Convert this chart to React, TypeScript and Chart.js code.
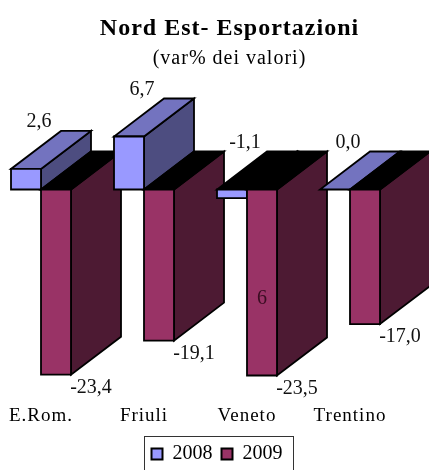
import { useEffect, useRef } from "react";
import { Chart, registerables } from "chart.js";

Chart.register(...registerables);

const categories = ["E.Rom.", "Friuli", "Veneto", "Trentino"];
const seriesNames = ["2008", "2009"];
const values2008 = [2.6, 6.7, -1.1, 0.0];
const values2009 = [-23.4, -19.1, -23.5, -17.0];
const titleText = "Nord Est- Esportazioni";
const subtitleText = "(var% dei valori)";
// stray text visible inside the Veneto 2009 column of the original
const strayNoteText = "6";
const strayNoteCategory = 2;
const strayNoteValue = -13.8;

const FONT = "'Liberation Serif', 'Times New Roman', serif";
const DEPTH_X = 50;
const DEPTH_Y = -38;
const SHIFT = 25;

const faceColors = [
  { front: "#9999FF", top: "#7373BF", side: "#4D4D80" },
  { front: "#993366", top: "#732650", side: "#4D1A33" },
];

const fmt = (v: number) => v.toFixed(1).replace(".", ",");

const bars3d = {
  id: "bars3d",
  beforeDraw(chart: any) {
    chart.ctx.letterSpacing = "1px";
  },
  afterLayout(chart: any) {
    for (const box of chart.boxes) {
      const t = box?.options?.text;
      if (t === titleText || t === subtitleText) {
        box.left += 9;
        box.right += 9;
      }
    }
    if (chart.legend) {
      chart.legend.left -= 3.5;
      chart.legend.right -= 3.5;
      if (!chart.legend.__patched) {
        const orig = chart.legend.draw.bind(chart.legend);
        chart.legend.draw = (area: any) => {
          const prev = chart.ctx.letterSpacing;
          chart.ctx.letterSpacing = "0px";
          orig(area);
          chart.ctx.letterSpacing = prev;
        };
        chart.legend.__patched = true;
      }
    }
  },
  beforeDatasetsDraw(chart: any) {
    const ctx = chart.ctx;
    const datasets = chart.data.datasets;
    const metas = datasets.map((_: any, d: number) => chart.getDatasetMeta(d));
    const poly = (pts: number[][], fill: string) => {
      ctx.beginPath();
      ctx.moveTo(pts[0][0], pts[0][1]);
      for (let k = 1; k < pts.length; k++) ctx.lineTo(pts[k][0], pts[k][1]);
      ctx.closePath();
      ctx.fillStyle = fill;
      ctx.fill();
      ctx.stroke();
    };
    ctx.save();
    ctx.letterSpacing = "0px";
    ctx.lineWidth = 1.8;
    ctx.strokeStyle = "#000";
    ctx.lineJoin = "miter";
    const labels: { text: string; x: number; y: number }[] = [];
    for (let i = 0; i < categories.length; i++) {
      for (let d = 0; d < datasets.length; d++) {
        const el = metas[d].data[i];
        const { x, y, base, width } = el.getProps(["x", "y", "base", "width"], true);
        const x0 = x - width / 2 - SHIFT;
        const x1 = x + width / 2 - SHIFT;
        const yTop = Math.min(y, base);
        const yBot = Math.max(y, base);
        const v = datasets[d].data[i];
        const c = faceColors[d];
        if (yBot - yTop > 0.5) {
          poly([[x1, yTop], [x1 + DEPTH_X, yTop + DEPTH_Y], [x1 + DEPTH_X, yBot + DEPTH_Y], [x1, yBot]], c.side);
        }
        poly([[x0, yTop], [x1, yTop], [x1 + DEPTH_X, yTop + DEPTH_Y], [x0 + DEPTH_X, yTop + DEPTH_Y]], v < 0 ? "#000000" : c.top);
        if (yBot - yTop > 0.5) {
          poly([[x0, yTop], [x1, yTop], [x1, yBot], [x0, yBot]], c.front);
        }
        if (d === 0) {
          labels.push({ text: fmt(v), x: (x0 + x1) / 2 + 13, y: yTop - 47 });
        } else {
          labels.push({ text: fmt(v), x: x1 + 20, y: yBot + 13 });
        }
      }
    }
    ctx.fillStyle = "#111";
    ctx.font = `20px ${FONT}`;
    ctx.textAlign = "center";
    ctx.textBaseline = "middle";
    for (const l of labels) ctx.fillText(l.text, l.x, l.y);
    // stray note
    const el = metas[1].data[strayNoteCategory];
    const sx = el.x - SHIFT;
    const sy = chart.scales.y.getPixelForValue(strayNoteValue);
    ctx.fillStyle = "#3a0d22";
    ctx.fillText(strayNoteText, sx, sy);
    ctx.restore();
    return false;
  },
  afterDraw(chart: any) {
    const ctx = chart.ctx;
    ctx.letterSpacing = "0px";
    const hb = chart.legend?.legendHitBoxes;
    if (hb && hb.length) {
      const first = hb[0];
      const last = hb[hb.length - 1];
      ctx.save();
      ctx.strokeStyle = "#333";
      ctx.lineWidth = 1;
      const left = Math.round(first.left - 8) + 0.5;
      const right = Math.round(last.left + last.width + 10) + 0.5;
      const top = Math.round(first.top - 8.5) + 0.5;
      ctx.strokeRect(left, top, right - left, chart.height + 10 - top);
      ctx.restore();
    }
  },
};

export default function App() {
  const ref = useRef<HTMLCanvasElement | null>(null);
  useEffect(() => {
    if (!ref.current) return;
    const chart = new Chart(ref.current, {
      type: "bar",
      data: {
        labels: categories,
        datasets: [
          { label: seriesNames[0], data: values2008, backgroundColor: faceColors[0].front, borderColor: "#000", borderWidth: 2 },
          { label: seriesNames[1], data: values2009, backgroundColor: faceColors[1].front, borderColor: "#000", borderWidth: 2 },
        ],
      },
      options: {
        responsive: false,
        animation: false,
        events: [],
        categoryPercentage: 60 / 103,
        barPercentage: 1,
        layout: { padding: { left: 14.5, right: 2.5, top: 0, bottom: -4 } },
        scales: {
          x: {
            grid: { display: false, drawTicks: false },
            border: { display: false },
            ticks: { font: { family: FONT, size: 19 }, color: "#000", labelOffset: -SHIFT, padding: 1 },
            afterFit: (scale: any) => {
              scale.height += 7;
            },
          },
          y: { display: false, min: -27, max: 15 },
        },
        plugins: {
          title: {
            display: true,
            text: titleText,
            color: "#000",
            font: { family: FONT, size: 24, weight: "bold", lineHeight: 1.2 },
            padding: { top: 14, bottom: 0 },
          },
          subtitle: {
            display: true,
            text: subtitleText,
            color: "#000",
            font: { family: FONT, size: 20, weight: "normal", lineHeight: 1.2 },
            padding: { top: 4, bottom: 0 },
          },
          legend: {
            display: true,
            position: "bottom",
            labels: { font: { family: FONT, size: 20 }, color: "#000", boxWidth: 11, boxHeight: 11, padding: 9 },
          },
          tooltip: { enabled: false },
        },
      },
      plugins: [bars3d],
    });
    return () => chart.destroy();
  }, []);
  return (
    <div style={{ position: "fixed", left: 0, top: 0, width: 429, height: 470, background: "#fff" }}>
      <canvas ref={ref} width={429} height={470} style={{ display: "block" }} />
    </div>
  );
}
